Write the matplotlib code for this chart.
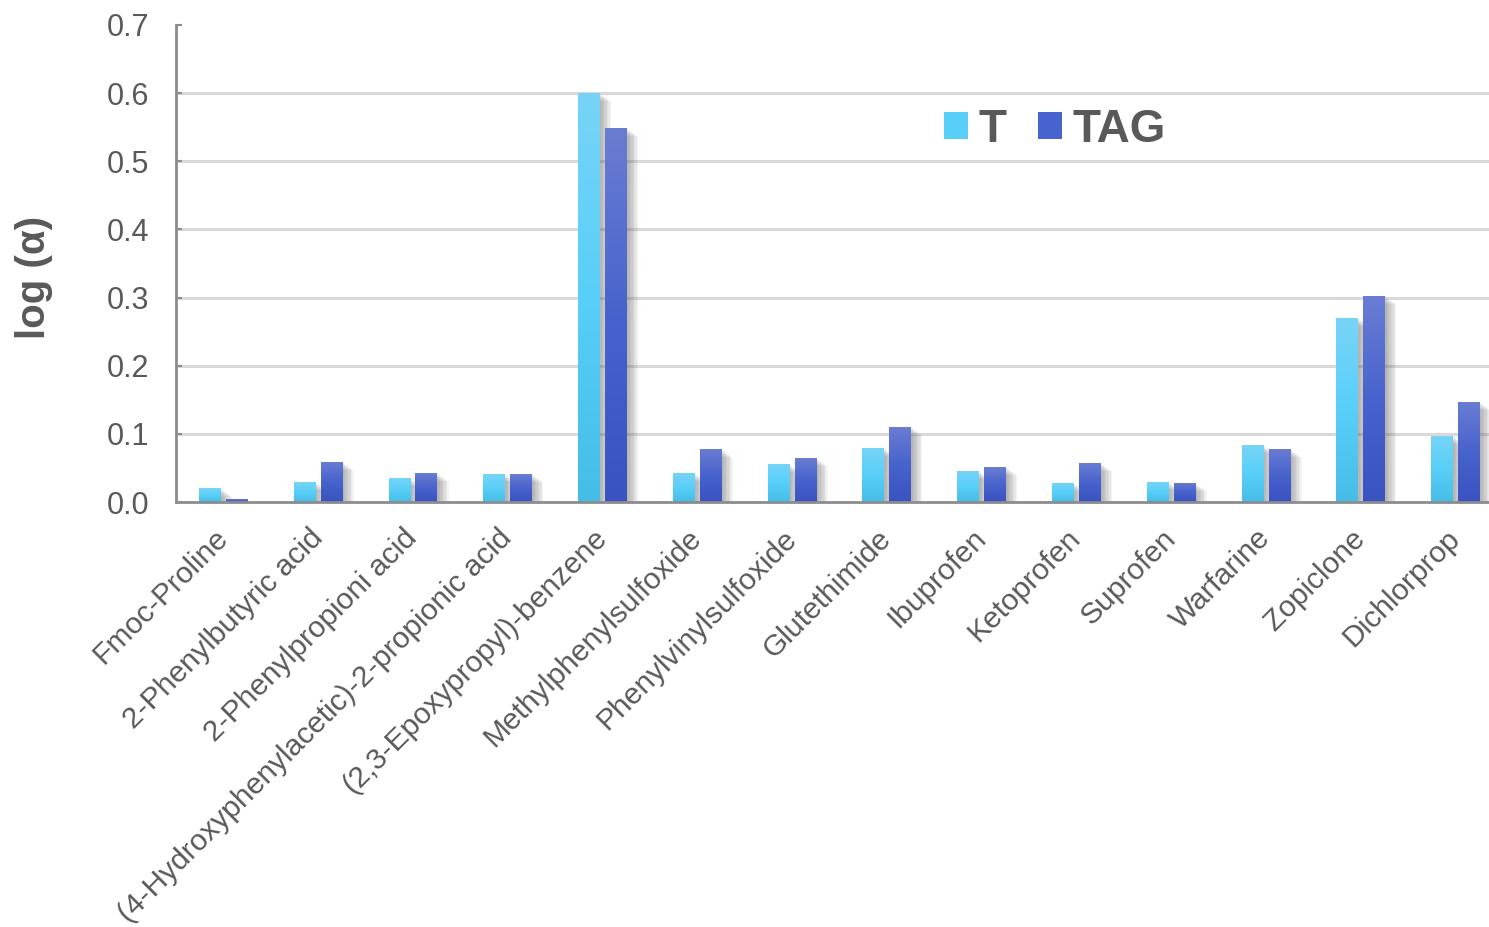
import numpy as np
import matplotlib
matplotlib.use("Agg")
import matplotlib.pyplot as plt
from matplotlib.colors import LinearSegmentedColormap
from matplotlib.patches import Patch
import matplotlib.patheffects as pe

plt.rcParams['font.family'] = ['Liberation Sans', 'DejaVu Sans']

categories = ["Fmoc-Proline", "2-Phenylbutyric acid", "2-Phenylpropioni acid",
              "(4-Hydroxyphenylacetic)-2-propionic acid", "(2,3-Epoxypropyl)-benzene",
              "Methylphenylsulfoxide", "Phenylvinylsulfoxide", "Glutethimide",
              "Ibuprofen", "Ketoprofen", "Suprofen", "Warfarine", "Zopiclone", "Dichlorprop"]
T_vals = [0.020, 0.029, 0.035, 0.041, 0.600, 0.042, 0.056, 0.079, 0.045, 0.028, 0.029, 0.083, 0.270, 0.097]
TAG_vals = [0.004, 0.059, 0.042, 0.041, 0.549, 0.078, 0.064, 0.110, 0.051, 0.057, 0.028, 0.078, 0.302, 0.147]
series_names = ["T", "TAG"]
y_ticks = [0.0, 0.1, 0.2, 0.3, 0.4, 0.5, 0.6, 0.7]

txt_color = "#595959"
cmap_T = LinearSegmentedColormap.from_list("t", ["#77d4f6", "#58cff9", "#46bde6"])
cmap_TAG = LinearSegmentedColormap.from_list("tag", ["#6b7dd3", "#4763cd", "#3953c0"])

fig = plt.figure(figsize=(14.89, 9.27), dpi=100)
W, H = 1489, 927
left, right, top, bottom = 176, 1503, 25, 502
ax = fig.add_axes([left / W, 1 - bottom / H, (right - left) / W, (bottom - top) / H])

x = np.arange(len(categories))
bw = 0.232
off = 0.142

shadow = [pe.SimplePatchShadow(offset=(d, -d * 0.7), shadow_rgbFace="#606060", alpha=0.07)
          for d in (1, 2, 3, 4, 5, 6, 7, 8)] + [pe.Normal()]

grad = np.linspace(0, 1, 256).reshape(-1, 1)
for vals, dx, cmap in ((T_vals, -off, cmap_T), (TAG_vals, off, cmap_TAG)):
    bars = ax.bar(x + dx, vals, bw, color=cmap(0.5), zorder=3, linewidth=0)
    for b in bars:
        b.set_path_effects(shadow)
        x0 = b.get_x()
        h = b.get_height()
        im = ax.imshow(grad, cmap=cmap, aspect="auto", extent=[x0, x0 + bw, 0, h],
                       origin="upper", zorder=4, vmin=0, vmax=1)
        im.set_clip_path(b)

ax.set_xlim(-0.5, len(categories) - 0.5)
ax.set_ylim(0, 0.7)
ax.set_yticks(y_ticks)
ax.set_yticklabels([f"{v:.1f}" for v in y_ticks])
ax.set_xticks(x)
ax.set_xticklabels(categories, rotation=45, ha="right", va="center", rotation_mode="anchor")

for v in y_ticks[1:-1]:
    ax.axhline(v, color="#d9d9d9", lw=2.2, zorder=1)

for s in ("top", "right"):
    ax.spines[s].set_visible(False)
for s in ("left", "bottom"):
    ax.spines[s].set_color("#8c8c8c")
    ax.spines[s].set_linewidth(2)
ax.spines["bottom"].set_zorder(5)

ax.tick_params(axis="y", length=4, direction="in", color="#8c8c8c", width=1.5,
               labelsize=22, labelcolor=txt_color, pad=19)
ax.tick_params(axis="x", length=0, labelsize=21.5, labelcolor=txt_color, pad=23)

fig.text(34 / W, 1 - 277 / H, "log (α)", fontsize=29, fontweight="bold", color=txt_color,
         rotation=90, ha="center", va="center")

handles = [Patch(facecolor=cmap_T(0.5), edgecolor="none"),
           Patch(facecolor=cmap_TAG(0.5), edgecolor="none")]
fig.legend(handles, series_names, loc="center", bbox_to_anchor=(1055 / W, 1 - 130 / H),
           ncol=2, frameon=False, prop={"size": 33, "weight": "bold"},
           handlelength=0.52, handleheight=0.52, handletextpad=0.22, columnspacing=0.7,
           labelcolor=txt_color)

fig.savefig("out.png", dpi=100)
